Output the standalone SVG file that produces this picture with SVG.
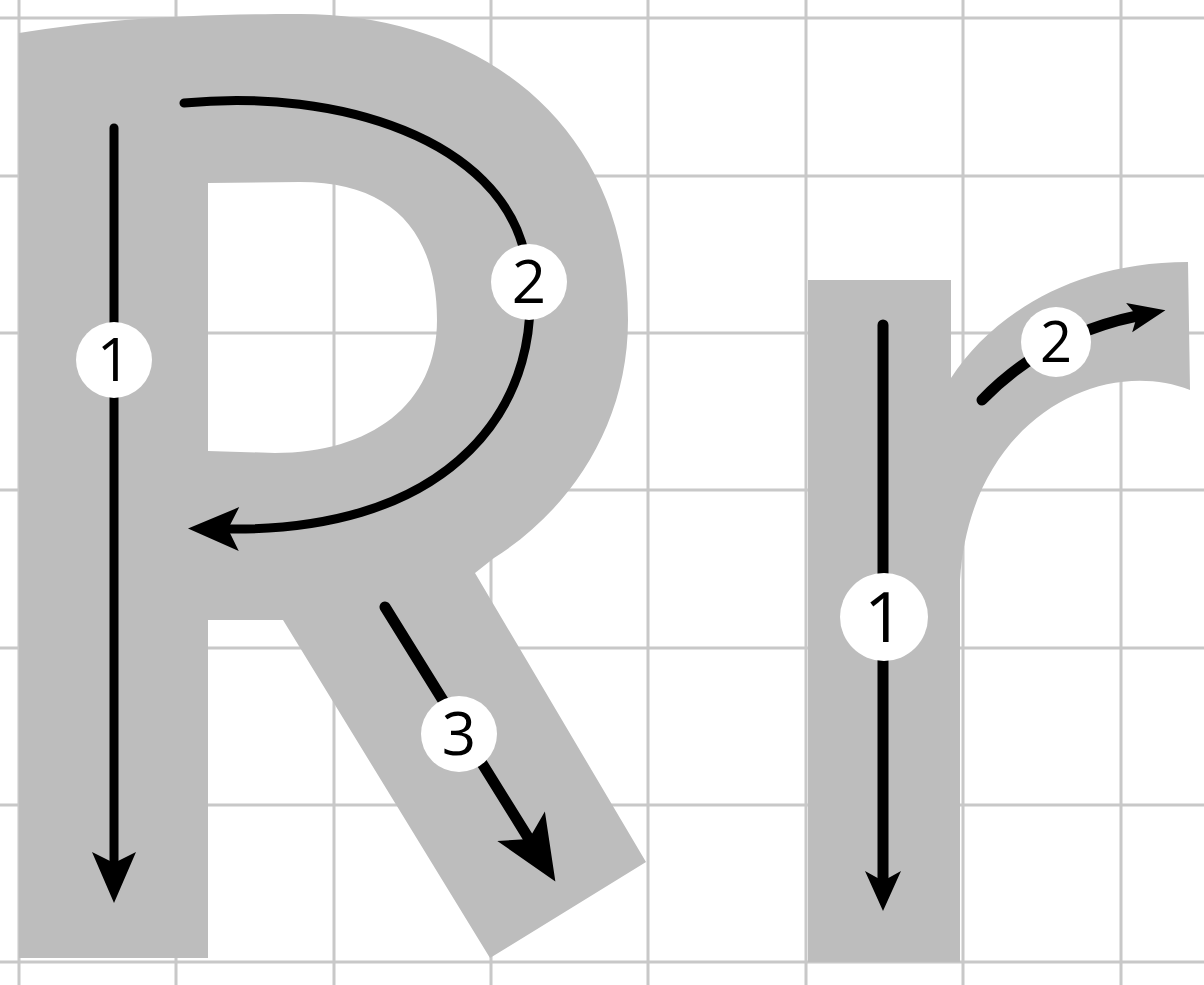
<svg xmlns="http://www.w3.org/2000/svg" width="1204" height="985" viewBox="0 0 1204 985">
  <style>
    .grid line { stroke: #c8c8c8; stroke-width: 3; }
    .glyph { fill: #bdbdbd; fill-rule: evenodd; }
    .stroke { fill: none; stroke: #000; stroke-linecap: round; }
    .badge circle { fill: #fff; }
    .badge text { font-family: "Open Sans", "Liberation Sans", sans-serif; fill: #000; text-anchor: middle; }
  </style>
  <defs>
    <marker id="arrR" markerUnits="userSpaceOnUse" orient="auto" refX="0" refY="0" markerWidth="120" markerHeight="120" viewBox="-60 -60 120 120" overflow="visible">
      <path d="M40,0 L-11,-22 L0,0 L-11,22 Z" fill="#000"/>
    </marker>
    <marker id="arrR3" markerUnits="userSpaceOnUse" orient="auto" refX="0" refY="0" markerWidth="140" markerHeight="140" viewBox="-70 -70 140 140" overflow="visible">
      <path d="M50,0 L-15,-28 L0,0 L-15,28 Z" fill="#000"/>
    </marker>
    <marker id="arrr1" markerUnits="userSpaceOnUse" orient="auto" refX="0" refY="0" markerWidth="100" markerHeight="100" viewBox="-50 -50 100 100" overflow="visible">
      <path d="M30,0 L-10,-18 L0,0 L-10,18 Z" fill="#000"/>
    </marker>
    <marker id="arrr2" markerUnits="userSpaceOnUse" orient="auto" refX="0" refY="0" markerWidth="100" markerHeight="100" viewBox="-50 -50 100 100" overflow="visible">
      <path d="M29,0 L-8,-15 L0,0 L-8,15 Z" fill="#000"/>
    </marker>
  </defs>
  <rect width="1204" height="985" fill="#fff"/>
  <g id="grid" class="grid">
    <line x1="19" y1="0" x2="19" y2="985"/>
    <line x1="176" y1="0" x2="176" y2="985"/>
    <line x1="334" y1="0" x2="334" y2="985"/>
    <line x1="491" y1="0" x2="491" y2="985"/>
    <line x1="648" y1="0" x2="648" y2="985"/>
    <line x1="806" y1="0" x2="806" y2="985"/>
    <line x1="963" y1="0" x2="963" y2="985"/>
    <line x1="1121" y1="0" x2="1121" y2="985"/>
    <line x1="0" y1="18" x2="1204" y2="18"/>
    <line x1="0" y1="176" x2="1204" y2="176"/>
    <line x1="0" y1="333" x2="1204" y2="333"/>
    <line x1="0" y1="490" x2="1204" y2="490"/>
    <line x1="0" y1="648" x2="1204" y2="648"/>
    <line x1="0" y1="805" x2="1204" y2="805"/>
    <line x1="0" y1="962" x2="1204" y2="962"/>
  </g>
  <g id="letter-R">
    <path class="glyph" d="M19,33 C100,20 180,14 300,14 C480,14 628,125 628,320 C628,425 570,510 494,558 L475,573 L646,862 L490,958 L283,620 L208,620 L208,958 L19,958 Z M208,183 L300,182 C395,182 437,235 437,320 C437,405 370,453 275,453 L208,451 Z"/>
  </g>
  <g id="letter-r">
    <path class="glyph" d="M808,280 L951,280 L951,378 C990,318 1070,262 1188,262 L1190,390 C1100,355 970,420 960,580 L960,962 L808,962 Z"/>
  </g>
  <g id="connectors">
    <path id="R-stroke1" class="stroke" stroke-width="9" d="M114,128 L114,863" marker-end="url(#arrR)"/>
    <path id="R-stroke2" class="stroke" stroke-width="9" d="M184,103 C340,88 500,140 525,255 C540,330 520,400 470,450 C410,510 320,530 228,529" marker-end="url(#arrR)"/>
    <path id="R-stroke3" class="stroke" stroke-width="11" d="M385,607 L529,839" marker-end="url(#arrR3)"/>
    <path id="r-stroke1" class="stroke" stroke-width="11" d="M883,325 L883,881" marker-end="url(#arrr1)"/>
    <path id="r-stroke2" class="stroke" stroke-width="11" d="M982,400 Q1045,335 1137,316" marker-end="url(#arrr2)"/>
  </g>
  <g id="badge-R1" class="badge">
    <circle cx="114" cy="360" r="38"/>
    <text x="114" y="381" font-size="60">1</text>
  </g>
  <g id="badge-R2" class="badge">
    <circle cx="529" cy="282" r="38"/>
    <text x="529" y="303" font-size="60">2</text>
  </g>
  <g id="badge-R3" class="badge">
    <circle cx="459" cy="734" r="38"/>
    <text x="459" y="755" font-size="60">3</text>
  </g>
  <g id="badge-r1" class="badge">
    <circle cx="884" cy="617" r="44"/>
    <text x="884" y="642" font-size="70">1</text>
  </g>
  <g id="badge-r2" class="badge">
    <circle cx="1056" cy="342" r="35"/>
    <text x="1056" y="362" font-size="56">2</text>
  </g>
</svg>
